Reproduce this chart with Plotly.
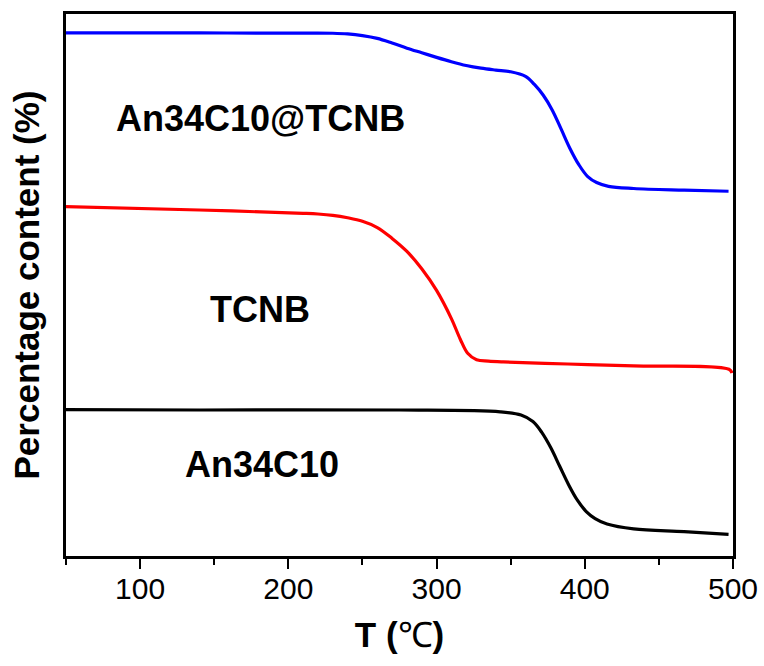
import plotly.graph_objects as go

# TGA curves, stacked with vertical offsets (arbitrary units on y)
t_complex = [50, 140, 210, 230, 240, 250, 260, 270, 280, 290, 300, 310, 320, 330,
             340, 350, 360, 366, 372, 378, 384, 390, 396, 402, 408, 416, 433, 467, 497]
y_complex = [96.5, 96.5, 96.47, 96.45, 96.33, 96.02, 95.5, 94.65, 93.7, 92.85, 92.0,
             91.2, 90.5, 90.0, 89.65, 89.35, 88.5, 87.0, 85.0, 82.3, 78.8, 75.2, 72.2,
             70.0, 68.9, 68.2, 67.8, 67.5, 67.3]

t_tcnb = [50, 140, 210, 220, 230, 240, 250, 260, 270, 280, 290, 300, 310, 316, 321,
          327, 335, 345, 388.5, 433, 497.3, 499.3]
y_tcnb = [64.45, 63.84, 63.23, 63.1, 62.85, 62.4, 61.75, 60.6, 58.6, 56.2, 53.0, 49.0,
          43.8, 40.0, 37.4, 36.2, 35.95, 35.8, 35.42, 35.06, 34.45, 33.76]

t_host = [50, 140, 275, 343, 357, 365, 371, 377, 383, 389, 395, 401, 407,
          415, 433, 467, 497]
y_host = [27.0, 26.94, 26.94, 26.6, 26.0, 24.8, 22.8, 20.0, 16.6, 13.2, 10.3, 8.2, 6.9,
          5.9, 5.0, 4.5, 4.0]

series = [
    ("An34C10@TCNB", t_complex, y_complex, "#0000ff"),
    ("TCNB", t_tcnb, y_tcnb, "#ff0000"),
    ("An34C10", t_host, y_host, "#000000"),
]

# label positions (T, y)
label_text = ["An34C10@TCNB", "TCNB", "An34C10"]
label_x = [181, 181, 182]
label_y = [80.8, 45.4, 16.8]

FONT = "Liberation Sans, Arial, sans-serif"

fig = go.Figure()
for name, t, y, color in series:
    fig.add_trace(go.Scatter(
        x=t, y=y, mode="lines", name=name,
        line=dict(color=color, width=3.2, shape="spline", smoothing=1.0),
        showlegend=False,
    ))

for txt, lx, ly in zip(label_text, label_x, label_y):
    fig.add_annotation(
        x=lx, y=ly, text=txt, showarrow=False,
        font=dict(family=FONT, size=36, color="black", weight="bold"),
        xanchor="center", yanchor="middle",
    )

fig.update_layout(
    width=764, height=666,
    margin=dict(l=66, r=31, t=14, b=110, autoexpand=False),
    paper_bgcolor="white", plot_bgcolor="white",
    font=dict(family=FONT, color="black"),
)

fig.update_xaxes(
    range=[50, 500], tick0=0, dtick=100, automargin=False,
    showline=True, linecolor="black", linewidth=2.5, mirror=True,
    ticks="outside", ticklen=10, tickwidth=2, tickcolor="black",
    minor=dict(dtick=50, tick0=0, ticks="outside", ticklen=6, tickwidth=2, tickcolor="black"),
    showgrid=False, zeroline=False,
    tickfont=dict(family=FONT, size=30, color="black"),
    ticklabelstandoff=-6,
    title=dict(
        text='T (<span style="font-weight:normal">℃</span>)',
        font=dict(family=FONT, size=35, color="black", weight="bold"),
        standoff=19,
    ),
)

fig.update_yaxes(
    range=[0, 100], automargin=False,
    showline=True, linecolor="black", linewidth=2.5, mirror=True,
    ticks="", showticklabels=False, showgrid=False, zeroline=False,
    title=dict(
        text="Percentage content (%)",
        font=dict(family=FONT, size=35, color="black", weight="bold"),
        standoff=14,
    ),
)

fig.write_html("out.html")
